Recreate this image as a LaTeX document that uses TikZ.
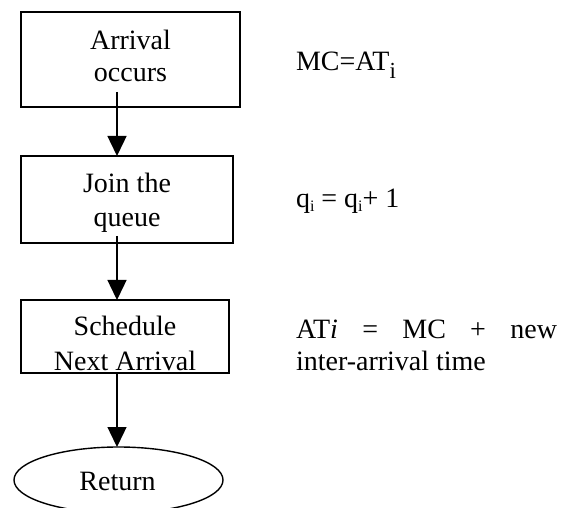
\documentclass[tikz,border=0pt]{standalone}
\usepackage{fontspec}
\setmainfont{Liberation Serif}
\usetikzlibrary{arrows.meta,shapes.geometric}
% small lowered "i" used as a subscript
\newcommand{\subi}[2]{\raisebox{#1}{\fontsize{#2}{#2}\selectfont i}}

\begin{document}
\begin{tikzpicture}[x=1pt,y=-1pt,
  every node/.style={font=\fontsize{28}{33}\selectfont, inner sep=0pt, outer sep=0pt},
  stepbox/.style={draw, rectangle, line width=1.6pt},
  endbox/.style={draw, ellipse, line width=1.4pt},
  lbl/.style={anchor=base},
  note/.style={anchor=base west},
  flow/.style={line width=1.4pt, -{Triangle[length=20pt,width=19pt]}}]

\useasboundingbox (0,0) rectangle (563,508);
\fill[white] (0,0) rectangle (563,508);

% process boxes and terminator
\node[stepbox, minimum width=219pt, minimum height=95pt] (b1) at (130.5,59.5) {};
\node[stepbox, minimum width=212pt, minimum height=87pt] (b2) at (127,199.5) {};
\node[stepbox, minimum width=208pt, minimum height=73pt] (b3) at (125,336.5) {};
\node[endbox, minimum width=209pt, minimum height=66pt] (e) at (118.5,480) {};

% box texts
\node[lbl] (t1a) at (130.5,50) {Arrival};
\node[lbl] (t1b) at (130.5,82) {occurs};
\node[lbl] (t2a) at (127,193) {Join the};
\node[lbl] (t2b) at (127,227) {queue};
\node[lbl] (t3a) at (125,335) {Schedule};
\node[lbl] (t3b) at (125,370) {Next Arrival};
\node[lbl] (t4) at (117.5,490) {Return};

% connectors
\coordinate (a1) at (117,92);
\coordinate (a2) at (117,236);
\coordinate (a3) at (b3.south -| a1);
\draw[flow] (a1) -- (a1 |- b2.north);
\draw[flow] (a2) -- (a2 |- b3.north);
\draw[flow] (a3) -- (a3 |- e.north);

% side notes
\node[note] (n1) at (296,71) {MC=AT\subi{-8pt}{23}};
\node[note] (n2) at (296,208) {q\subi{-4pt}{16} = q\subi{-4pt}{16}+ 1};
\node[note] (n3) at (296,338) {\makebox[261pt][l]{AT\textit{i}\hfill=\hfill MC\hfill+\hfill new}};
\node[note] (n4) at (296,370) {inter-arrival time};
\end{tikzpicture}
\end{document}
